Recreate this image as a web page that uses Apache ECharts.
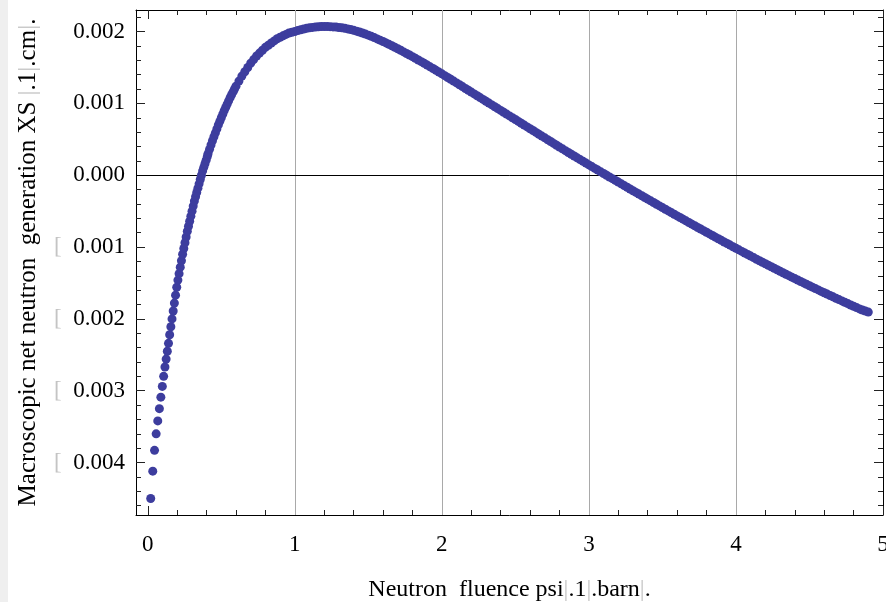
<!DOCTYPE html>
<html>
<head>
<meta charset="utf-8">
<script src="https://cdn.jsdelivr.net/npm/echarts@6/dist/echarts.min.js"></script>
<style>
html,body{margin:0;padding:0;background:#fff;}
#chart{width:886px;height:602px;}
</style>
</head>
<body>
<div id="chart"></div>
<script>
// Neutron fluence psi [1/barn]
const xs = [
0.020,0.034,0.046,0.057,0.068,0.079,0.089,0.099,0.108,0.117,0.125,0.133,0.141,0.149,0.157,0.165,0.173,0.181,0.189,0.197,
0.205,0.213,0.221,0.229,0.237,0.245,0.253,0.261,0.269,0.277,0.285,0.293,0.301,0.309,0.317,0.325,0.333,0.341,0.349,0.357,
0.365,0.373,0.381,0.389,0.397,0.405,
0.41,0.42,0.43,0.44,0.45,0.46,0.47,0.48,0.49,0.50,0.51,0.52,0.53,0.54,0.55,0.56,0.57,0.58,0.59,0.60,
0.62,0.64,0.66,0.68,0.70,0.72,0.74,0.76,0.78,0.80,0.82,0.84,0.86,0.88,0.90,0.92,0.94,0.96,0.98,1.00,
1.02,1.04,1.06,1.08,1.10,1.12,1.14,1.16,1.18,1.20,
1.22,1.24,1.26,1.28,1.30,1.32,1.34,1.36,1.38,1.40,
1.42,1.44,1.46,1.48,1.50,1.52,1.54,1.56,1.58,1.60,
1.62,1.64,1.66,1.68,1.70,1.72,1.74,1.76,1.78,1.80,
1.82,1.84,1.86,1.88,1.90,1.92,1.94,1.96,1.98,2.00,
2.02,2.04,2.06,2.08,2.10,2.12,2.14,2.16,2.18,2.20,
2.22,2.24,2.26,2.28,2.30,2.32,2.34,2.36,2.38,2.40,
2.42,2.44,2.46,2.48,2.50,2.52,2.54,2.56,2.58,2.60,
2.62,2.64,2.66,2.68,2.70,2.72,2.74,2.76,2.78,2.80,
2.82,2.84,2.86,2.88,2.90,2.92,2.94,2.96,2.98,3.00,
3.02,3.04,3.06,3.08,3.10,3.12,3.14,3.16,3.18,3.20,
3.22,3.24,3.26,3.28,3.30,3.32,3.34,3.36,3.38,3.40,
3.42,3.44,3.46,3.48,3.50,3.52,3.54,3.56,3.58,3.60,
3.62,3.64,3.66,3.68,3.70,3.72,3.74,3.76,3.78,3.80,
3.82,3.84,3.86,3.88,3.90,3.92,3.94,3.96,3.98,4.00,
4.02,4.04,4.06,4.08,4.10,4.12,4.14,4.16,4.18,4.20,
4.22,4.24,4.26,4.28,4.30,4.32,4.34,4.36,4.38,4.40,
4.42,4.44,4.46,4.48,4.50,4.52,4.54,4.56,4.58,4.60,
4.62,4.64,4.66,4.68,4.70,4.72,4.74,4.76,4.78,4.80,
4.82,4.84,4.86,4.88,4.90
];
// Macroscopic net neutron generation XS [1/cm]
const ys = [
-4.50e-3,-4.12e-3,-3.83e-3,-3.60e-3,-3.42e-3,-3.25e-3,-3.09e-3,-2.94e-3,-2.80e-3,-2.67e-3,-2.56e-3,-2.45e-3,-2.34e-3,-2.22e-3,-2.11e-3,-2.00e-3,-1.89e-3,-1.78e-3,-1.67e-3,-1.56e-3,
-1.46e-3,-1.37e-3,-1.28e-3,-1.19e-3,-1.10e-3,-1.02e-3,-0.94e-3,-0.86e-3,-0.78e-3,-0.71e-3,-0.64e-3,-0.57e-3,-0.50e-3,-0.43e-3,-0.36e-3,-0.30e-3,-0.24e-3,-0.18e-3,-0.12e-3,-0.06e-3,
0.00e-3,0.06e-3,0.11e-3,0.16e-3,0.21e-3,0.26e-3,
0.30e-3,0.36e-3,0.42e-3,0.48e-3,0.535e-3,0.59e-3,0.645e-3,0.70e-3,0.75e-3,0.80e-3,0.85e-3,0.90e-3,0.945e-3,0.99e-3,1.035e-3,1.08e-3,1.12e-3,1.16e-3,1.20e-3,1.24e-3,
1.31e-3,1.38e-3,1.44e-3,1.50e-3,1.56e-3,1.61e-3,1.66e-3,1.70e-3,1.74e-3,1.78e-3,1.81e-3,1.84e-3,1.87e-3,1.90e-3,1.92e-3,1.94e-3,1.96e-3,1.98e-3,1.99e-3,2.00e-3,
2.013e-3,2.025e-3,2.036e-3,2.045e-3,2.052e-3,2.058e-3,2.063e-3,2.066e-3,2.069e-3,2.070e-3,
2.070e-3,2.068e-3,2.065e-3,2.062e-3,2.057e-3,2.052e-3,2.045e-3,2.037e-3,2.027e-3,2.017e-3,
2.005e-3,1.993e-3,1.980e-3,1.965e-3,1.950e-3,1.933e-3,1.916e-3,1.898e-3,1.880e-3,1.861e-3,
1.842e-3,1.822e-3,1.802e-3,1.781e-3,1.760e-3,1.739e-3,1.717e-3,1.695e-3,1.673e-3,1.650e-3,
1.627e-3,1.604e-3,1.581e-3,1.557e-3,1.533e-3,1.509e-3,1.485e-3,1.460e-3,1.436e-3,1.411e-3,
1.386e-3,1.361e-3,1.336e-3,1.310e-3,1.285e-3,1.259e-3,1.234e-3,1.208e-3,1.183e-3,1.157e-3,
1.132e-3,1.106e-3,1.081e-3,1.055e-3,1.030e-3,1.004e-3,0.979e-3,0.953e-3,0.928e-3,0.902e-3,
0.877e-3,0.851e-3,0.826e-3,0.800e-3,0.775e-3,0.749e-3,0.724e-3,0.698e-3,0.673e-3,0.647e-3,
0.622e-3,0.596e-3,0.571e-3,0.545e-3,0.520e-3,0.494e-3,0.469e-3,0.443e-3,0.418e-3,0.392e-3,
0.367e-3,0.342e-3,0.317e-3,0.292e-3,0.267e-3,0.242e-3,0.218e-3,0.193e-3,0.169e-3,0.144e-3,
0.120e-3,0.095e-3,0.071e-3,0.047e-3,0.024e-3,0.000e-3,-0.024e-3,-0.048e-3,-0.072e-3,-0.096e-3,
-0.120e-3,-0.144e-3,-0.168e-3,-0.192e-3,-0.216e-3,-0.239e-3,-0.263e-3,-0.286e-3,-0.310e-3,-0.333e-3,
-0.357e-3,-0.380e-3,-0.404e-3,-0.427e-3,-0.451e-3,-0.474e-3,-0.497e-3,-0.520e-3,-0.543e-3,-0.566e-3,
-0.589e-3,-0.612e-3,-0.635e-3,-0.658e-3,-0.681e-3,-0.704e-3,-0.727e-3,-0.749e-3,-0.772e-3,-0.794e-3,
-0.817e-3,-0.839e-3,-0.862e-3,-0.884e-3,-0.907e-3,-0.929e-3,-0.951e-3,-0.973e-3,-0.995e-3,-1.017e-3,
-1.039e-3,-1.061e-3,-1.083e-3,-1.104e-3,-1.126e-3,-1.147e-3,-1.169e-3,-1.190e-3,-1.211e-3,-1.232e-3,
-1.253e-3,-1.274e-3,-1.295e-3,-1.316e-3,-1.337e-3,-1.357e-3,-1.378e-3,-1.398e-3,-1.419e-3,-1.439e-3,
-1.459e-3,-1.479e-3,-1.499e-3,-1.519e-3,-1.539e-3,-1.558e-3,-1.578e-3,-1.597e-3,-1.617e-3,-1.636e-3,
-1.655e-3,-1.674e-3,-1.693e-3,-1.712e-3,-1.731e-3,-1.750e-3,-1.769e-3,-1.787e-3,-1.806e-3,-1.824e-3,
-1.843e-3,-1.861e-3,-1.877e-3,-1.891e-3,-1.905e-3
];
const xTicks = [0, 1, 2, 3, 4, 5];
const yTicks = [-0.004, -0.003, -0.002, -0.001, 0, 0.001, 0.002];
const xGrid = [1, 2, 3, 4];
const yGrid = [-0.004, -0.003, -0.002, -0.001, 0.001, 0.002];

const xMin = -0.08, xMax = 5, yMin = -0.00473, yMax = 0.00230;
const xMinor = []; for (let i = 0; i <= 25; i++) { if (i % 5) xMinor.push(i * 0.2); }
const yMinor = []; for (let i = -23; i <= 11; i++) { if (i % 5) yMinor.push(i * 0.0002); }

const FONT = 'Liberation Serif';
const FS = 23;
const faint = { color: '#c4c4c4', fontFamily: FONT, fontSize: FS };
const faintX = { color: '#c4c4c4', fontFamily: FONT, fontSize: 24 };
const faintY = { color: '#c4c4c4', fontFamily: FONT, fontSize: 25 };

function baseX(pos, ticks, len, line, labels) {
  return {
    type: 'value', position: pos, min: xMin, max: xMax,
    axisLine: { show: line, onZero: false, lineStyle: { color: '#000', width: 1 } },
    axisTick: { show: true, inside: true, length: len, customValues: ticks, lineStyle: { color: '#222', width: 1 } },
    axisLabel: labels ? { show: true, customValues: xTicks, margin: 18, color: '#000', fontFamily: FONT, fontSize: FS,
      formatter: v => String(Math.round(v)) } : { show: false },
    splitLine: { show: false }
  };
}
function baseY(pos, ticks, len, line, labels) {
  return {
    type: 'value', position: pos, min: yMin, max: yMax,
    axisLine: { show: line, onZero: false, lineStyle: { color: '#000', width: 1 } },
    axisTick: { show: true, inside: true, length: len, customValues: ticks, lineStyle: { color: '#222', width: 1 } },
    axisLabel: labels ? { show: true, customValues: yTicks, margin: 11, color: '#000', fontFamily: FONT, fontSize: FS,
      formatter: v => { const s = Math.abs(v).toFixed(3); return v < -1e-9 ? '{m|[}\u2002' + s : s; },
      rich: { m: faint } } : { show: false },
    splitLine: { show: false }
  };
}

const xAxes = [baseX('bottom', xTicks, 9, true, true), baseX('bottom', xMinor, 5, false, false),
               baseX('top', xTicks, 9, true, false), baseX('top', xMinor, 5, false, false)];
Object.assign(xAxes[0], {
  name: 'Neutron  fluence psi{b||}.1{b||}.barn{b||}.', nameLocation: 'middle', nameGap: 63,
  nameTextStyle: { color: '#000', fontFamily: FONT, fontSize: 24, rich: { b: faintX } }
});
const yAxes = [baseY('left', yTicks, 9, true, true), baseY('left', yMinor, 5, false, false),
               baseY('right', yTicks, 9, true, false), baseY('right', yMinor, 5, false, false)];
Object.assign(yAxes[0], {
  name: 'Macroscopic net neutron  generation XS {b||}.1{b||}.cm{b||}.', nameLocation: 'middle', nameGap: 95, nameRotate: 90,
  nameTextStyle: { color: '#000', fontFamily: FONT, fontSize: 25, rich: { b: faintY } }
});

const gridLines = xGrid.map(v => ({ xAxis: v })).concat(yGrid.map(v => ({ yAxis: v })));
gridLines.push({ yAxis: 0, lineStyle: { color: '#000', width: 1 } });

const chart = echarts.init(document.getElementById('chart'), null, { renderer: 'canvas' });
chart.setOption({
  animation: false,
  backgroundColor: '#fff',
  graphic: [{ type: 'rect', left: 0, top: 0, shape: { width: 8, height: 602 }, style: { fill: '#efefef' }, z: -10 }],
  grid: { left: 136, right: 3, top: 10, bottom: 87, containLabel: false, outerBoundsMode: 'none' },
  xAxis: xAxes,
  yAxis: yAxes,
  series: [
    { type: 'line', data: [], z: 1, silent: true,
      markLine: { silent: true, z: 1, symbol: ['none', 'none'], label: { show: false }, animation: false,
        lineStyle: { color: '#a9a9a9', width: 1, type: 'solid' }, emphasis: { disabled: true }, data: gridLines } },
    { type: 'scatter', z: 3, silent: true, symbol: 'circle', symbolSize: 9,
      itemStyle: { color: '#3d3d9e', opacity: 1 },
      data: xs.map((x, i) => [x, ys[i]]) }
  ]
});
</script>
</body>
</html>
